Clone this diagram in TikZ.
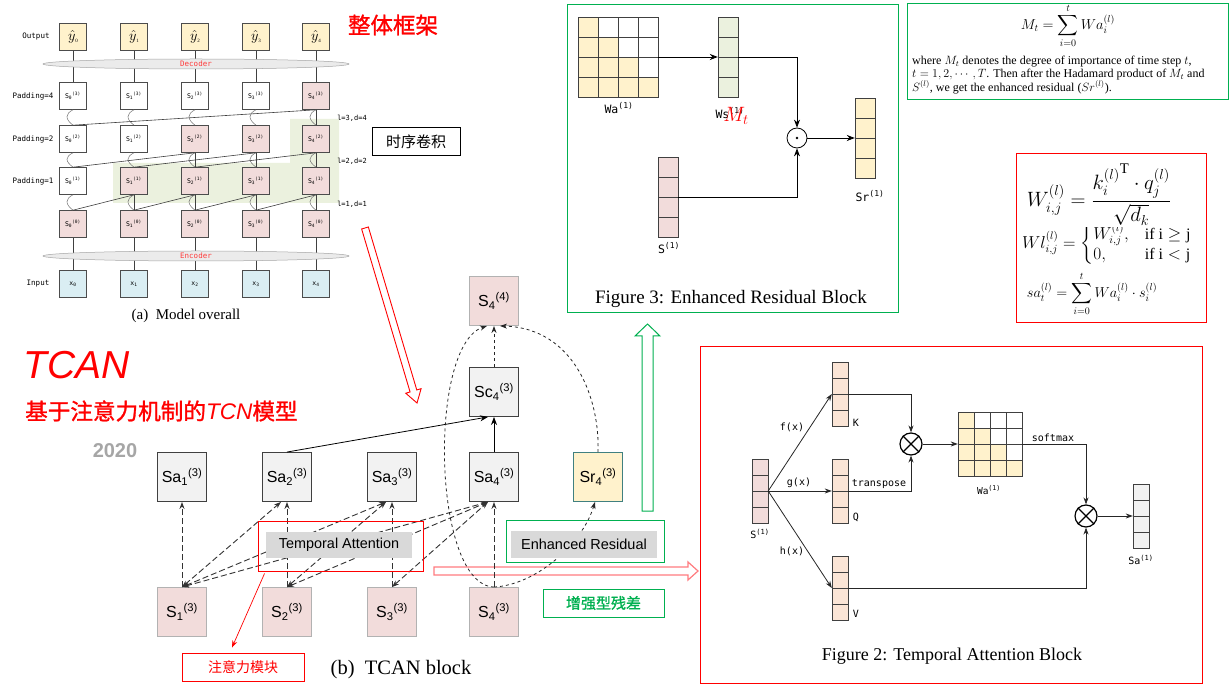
\documentclass[tikz,border=0pt]{standalone}
\usepackage{amsmath}
\usepackage{fontspec}
\setmainfont{Liberation Serif}
\setsansfont{Liberation Sans}
\setmonofont{DejaVu Sans Mono}
\newfontfamily\cjk{Noto Sans CJK SC}
\newfontfamily\cjkb[FakeBold=1.2]{Noto Sans CJK SC}
\usetikzlibrary{arrows.meta,calc,shapes.geometric}
\definecolor{pinkc}{HTML}{F2DCDB}
\definecolor{yelc}{HTML}{FFF2CC}
\definecolor{bluec}{HTML}{DAEEF3}
\definecolor{greenc}{HTML}{EBF1DE}
\definecolor{grayc}{HTML}{F2F2F2}
\definecolor{peachc}{HTML}{FBE5D6}
\definecolor{tagray}{HTML}{D9D9D9}
\definecolor{gline}{HTML}{00B050}
\definecolor{pinkarrow}{HTML}{FF7C80}
\definecolor{yeargray}{HTML}{A6A6A6}
\definecolor{encred}{HTML}{FF3B3B}
\newcommand{\fsz}[1]{\fontsize{#1}{#1}\selectfont}
\newcommand{\cellvec}[4]{\foreach \ii in {0,...,3}{\filldraw[fill=#4, draw=black!75, line width=0.8pt] (#1,#2+#3*\ii) rectangle ++(#3,#3);}}
\newcommand{\cellmat}[3]{\foreach \ii in {0,...,3}{\foreach \jj in {0,...,3}{\ifnum\jj>\ii\relax\def\cellcol{white}\else\def\cellcol{yelc}\fi
  \filldraw[fill=\cellcol, draw=black!75, line width=0.8pt] (#1+#3*\jj,#2+#3*\ii) rectangle ++(#3,#3);}}}
\tikzset{
  mbox/.style={draw=black!70, line width=0.6pt, minimum width=27pt, minimum height=27pt, inner sep=0pt, font=\fsz{6.5}\ttfamily},
  rowlab/.style={font=\fsz{7.5}\ttfamily, inner sep=0pt},
  mline/.style={draw=black!75, line width=0.6pt},
  wave/.style={draw=black!55, line width=0.5pt},
  ellip/.style={ellipse, draw=black!35, fill=black!8, line width=0.5pt, minimum width=306pt, minimum height=10pt, inner sep=0pt, font=\fsz{7.5}\ttfamily, text=encred},
  bbox/.style={draw=black!75, line width=0.9pt, minimum width=49pt, minimum height=49pt, inner sep=0pt, font=\fsz{16}\sffamily},
  bg/.style={bbox, fill=grayc},
  bp/.style={bbox, fill=pinkc, draw=black!30},
  byl/.style={bbox, fill=yelc, draw=teal!50!gray},
  att/.style={draw=black!80, line width=0.9pt, dash pattern=on 6pt off 3pt, -{Stealth[length=7pt,width=5pt]}},
  attb/.style={att, {Stealth[length=7pt,width=5pt]}-{Stealth[length=7pt,width=5pt]}},
  dotl/.style={draw=black!85, line width=0.8pt, dash pattern=on 3pt off 3pt, -{Stealth[length=7pt,width=5pt]}},
  arr/.style={draw=black, line width=0.8pt, -{Stealth[length=8pt,width=6pt]}},
  arrs/.style={draw=black!85, line width=0.8pt, -{Stealth[length=7pt,width=5pt]}},
  lab/.style={font=\fsz{10}\ttfamily, inner sep=0pt},
  vn/.style={inner sep=0pt, minimum width=#1pt, minimum height=4*#1pt},
  otim/.style={circle, draw=black, line width=1.2pt, minimum size=22pt, inner sep=0pt, fill=white},
}
\begin{document}
\begin{tikzpicture}[x=1pt,y=-1pt]
\useasboundingbox (0,0) rectangle (1232,692);
\fill[white] (0,0) rectangle (1232,692);

% ================= (a) Model overall =================
\fill[greenc] (113,163) -- (290,163) -- (290,119) -- (339,119) -- (339,203) -- (113,203) -- cycle;
\foreach \i/\x/\fa/\fb/\fc in {0/73/white/white/white,1/134/white/white/pinkc,2/195/white/pinkc/pinkc,3/256/white/pinkc/pinkc,4/316/pinkc/pinkc/pinkc}{
  \node[mbox, fill=yelc, font=\fsz{15}] (o\i) at (\x,37) {$\hat{y}$\raisebox{-2pt}{\fsz{5}\rmfamily\i}};
  \node[mbox, fill=\fa] (ra\i) at (\x,96) {S\textsubscript{\i}\textsuperscript{(3)}};
  \node[mbox, fill=\fb] (rb\i) at (\x,139) {S\textsubscript{\i}\textsuperscript{(2)}};
  \node[mbox, fill=\fc] (rc\i) at (\x,181) {S\textsubscript{\i}\textsuperscript{(1)}};
  \node[mbox, fill=pinkc] (rd\i) at (\x,224) {S\textsubscript{\i}\textsuperscript{(0)}};
  \node[mbox, fill=bluec] (in\i) at (\x,284) {x\textsubscript{\i}};
  \draw[mline] (o\i.south) -- (ra\i.north);
  \draw[mline] (rd\i.south) -- (in\i.north);
  \draw[wave] (ra\i.south) .. controls +(-8,4) and +(-8,-6) .. (rb\i.north);
  \draw[wave] (rb\i.south) .. controls +(-8,4) and +(-8,-6) .. (rc\i.north);
  \draw[wave] (rc\i.south) .. controls +(-8,4) and +(-8,-6) .. (rd\i.north);
}
\draw[mline] (ra4.south) -- (rb4.north);
\foreach \i in {2,3,4}{\draw[mline] (rb\i.south) -- (rc\i.north);}
\foreach \i in {1,2,3,4}{\draw[mline] (rc\i.south) -- (rd\i.north);}
\draw[mline] (ra4.south) -- (rb0.north);
\foreach \i/\j in {2/0,3/1,4/2}{\draw[mline] (rb\i.south) -- (rc\j.north);}
\foreach \i/\j in {1/0,2/1,3/2,4/3}{\draw[mline] (rc\i.south) -- (rd\j.north);}
\node[ellip] (dec) at (196,64) {Decoder};
\node[ellip] (enc) at (196,256) {Encoder};
\node[rowlab] (lout) at (36,37) {Output};
\node[rowlab] (lp4) at (33,96) {Padding=4};
\node[rowlab] (lp2) at (33,139) {Padding=2};
\node[rowlab] (lp1) at (33,181) {Padding=1};
\node[rowlab] (lin) at (38,284) {Input};
\node[rowlab, font=\fsz{7}\ttfamily] (d4) at (352,118) {l=3,d=4};
\node[rowlab, font=\fsz{7}\ttfamily] (d2) at (352,161) {l=2,d=2};
\node[rowlab, font=\fsz{7}\ttfamily] (d1) at (352,204) {l=1,d=1};
\node[inner sep=0pt, font=\fsz{15}] (capa) at (186,316) {(a)\ \ Model overall};

\node[font=\cjkb\fsz{22.5}, text=red, inner sep=0pt] (ztkj) at (393,25) {整体框架};
\node[draw=black, line width=1pt, minimum width=88pt, minimum height=28pt, font=\cjk\fsz{15}, inner sep=0pt] (sxjj) at (416,142) {时序卷积};

% ================= Titles =================
\node[font=\sffamily\itshape\fsz{39}, text=red, inner sep=0pt] (tcan) at (77,365) {TCAN};
\node[font=\cjkb\fsz{22.6}, text=red, inner sep=0pt, anchor=west] (tcnm) at (25,411) {基于注意力机制的{\sffamily\itshape TCN}模型};
\node[font=\sffamily\bfseries\fsz{20}, text=yeargray, inner sep=0pt] (yr) at (115,451) {2020};

% ================= hollow arrows =================
\begin{scope}[shift={(365,228)}, rotate=-73.45]
\filldraw[fill=white, draw=red, line width=0.9pt] (0,-3.5) -- (170,-3.5) -- (170,-8) -- (182.6,0) -- (170,8) -- (170,3.5) -- (0,3.5) -- cycle;
\end{scope}
\filldraw[fill=white, draw=pinkarrow, line width=1.2pt] (434,567) -- (688,567) -- (688,562) -- (698,571) -- (688,580) -- (688,575) -- (434,575) -- cycle;
\filldraw[fill=white, draw=gline, line width=1pt] (642,511) -- (642,336) -- (635,336) -- (647.5,324) -- (660,336) -- (653,336) -- (653,511) -- cycle;

% ================= (b) TCAN block =================
\node[bg] (sa1) at (182,477) {Sa\textsubscript{1}\textsuperscript{(3)}};
\node[bg] (sa2) at (287,477) {Sa\textsubscript{2}\textsuperscript{(3)}};
\node[bg] (sa3) at (392,477) {Sa\textsubscript{3}\textsuperscript{(3)}};
\node[bg] (sa4) at (494,477) {Sa\textsubscript{4}\textsuperscript{(3)}};
\node[bp] (s1) at (182,612) {S\textsubscript{1}\textsuperscript{(3)}};
\node[bp] (s2) at (287,612) {S\textsubscript{2}\textsuperscript{(3)}};
\node[bp] (s3) at (392,612) {S\textsubscript{3}\textsuperscript{(3)}};
\node[bp] (s4) at (494,612) {S\textsubscript{4}\textsuperscript{(3)}};
\node[bg] (sc4) at (494,392) {Sc\textsubscript{4}\textsuperscript{(3)}};
\node[bp] (s44) at (494,301) {S\textsubscript{4}\textsuperscript{(4)}};
\node[byl] (sr4) at (598,477) {Sr\textsubscript{4}\textsuperscript{(3)}};

\foreach \i in {1,2,3,4}{\draw[att] (s\i.north) -- (sa\i.south);}
\foreach \i/\j in {1/2,1/3,1/4,2/3,2/4,3/4}{\draw[attb] (s\i.north) -- ([xshift=-6pt]sa\j.south);}
\draw[arr] (sa4.north) -- (sc4.south);
\draw[arr] (sa2.north) -- ([xshift=-6pt]sc4.south);
\draw[dotl] (sc4.north) -- (s44.south);
\draw[dotl] (s4.north) .. controls (432,585) and (428,345) .. ([xshift=-7pt]s44.south);
\draw[dotl] (s4.north) .. controls (535,585) and (582,545) .. ([xshift=-3pt]sr4.south);
\draw[dotl] (sr4.north) .. controls (600,400) and (575,328) .. ([xshift=6pt]s44.south);

\node[fill=tagray, minimum width=146pt, minimum height=26pt, inner sep=0pt, font=\fsz{14.4}\sffamily] (ta) at (339,545) {Temporal Attention};
\node[draw=red, line width=0.9pt, minimum width=165pt, minimum height=50pt] (tared) at (340.5,546) {};
\node[fill=tagray, minimum width=146pt, minimum height=27pt, inner sep=0pt, font=\fsz{14.5}\sffamily] (er) at (584,544.5) {Enhanced Residual};
\node[draw=gline, line width=0.9pt, minimum width=158pt, minimum height=42pt] (ergr) at (585,541) {};
\node[draw=red, line width=0.9pt, minimum width=122pt, minimum height=28pt, font=\cjk\fsz{14}, text=red, inner sep=0pt] (zyl) at (243,667) {注意力模块};
\draw[red, line width=0.7pt, -{Stealth[length=7pt,width=5pt]}] ($(tared.south west)+(7,2)$) -- ($(zyl.north)+(-11,-5)$);
\node[draw=gline, line width=0.9pt, minimum width=121pt, minimum height=28pt, font=\cjkb\fsz{15}, text=gline, inner sep=0pt] (zqc) at (603.5,603) {增强型残差};
\node[inner sep=0pt, font=\fsz{20.5}] (capb) at (401,670) {(b)\ \ TCAN block};

% ================= Figure 3 =================
\draw[gline, line width=1pt] (567,5) rectangle (898,313);
\cellmat{578}{17}{20}
\node[vn=20, minimum width=80pt, minimum height=80pt] (wa3) at (618,57) {};
\cellvec{718}{17}{20}{greenc}
\node[vn=20] (mv) at (728,57) {};
\cellvec{658}{157}{20}{pinkc}
\node[vn=20] (sv) at (668,197) {};
\cellvec{855}{98}{20}{yelc}
\node[vn=20] (srv) at (865,138) {};
\node[circle, draw=black, line width=0.8pt, minimum size=20pt, inner sep=0pt, fill=white] (od) at (797,138) {};
\fill (od.center) circle (1.3);
\draw[arr] (wa3.east) -- (mv.west);
\draw[arr] (mv.east) -| (od.north);
\draw[arr] (sv.east) -| (od.south);
\draw[arr] (od.east) -- (srv.west);
\node[lab, font=\fsz{11.5}\ttfamily] (wal3) at (619,108) {Wa\textsuperscript{(1)}};
\node[lab, font=\fsz{11.5}\ttfamily] (wsl3) at (730,113) {Ws\textsuperscript{(1)}};
\node[inner sep=0pt, text=red, font=\fsz{22}] (mtl) at (736,116) {$M_t$};
\node[lab, font=\fsz{11.5}\ttfamily] (sl3) at (669,248) {S\textsuperscript{(1)}};
\node[lab, font=\fsz{11.5}\ttfamily] (srl3) at (870,196) {Sr\textsuperscript{(1)}};
\node[inner sep=0pt, font=\fsz{19}] (cap3) at (731,299) {Figure 3: Enhanced Residual Block};

% ================= Formula box (green) =================
\draw[gline, line width=1pt] (907,4) rectangle (1228,100);
\node[inner sep=0pt, font=\fsz{14.4}] (fmt) at (1068,26) {$\displaystyle M_t=\sum_{i=0}^{t} Wa_i^{(l)}$};
\node[inner sep=0pt, anchor=north west, align=left, font=\fontsize{12}{13.3}\selectfont] (ftxt) at (912,56) {where $M_t$ denotes the degree of importance of time step $t$,\\$t=1,2,\cdots,T$. Then after the Hadamard product of $M_t$ and\\$S^{(l)}$, we get the enhanced residual ($Sr^{(l)}$).};

% ================= Formula box (red) =================
\draw[red, line width=1pt] (1016,154) rectangle (1206,323);
\node[inner sep=0pt, font=\fsz{16}] (fw2) at (1107,244) {$Wl_{i,j}^{(l)}=\begin{cases}W_{i,j}^{(l)}, & \text{if i} \geq \text{j}\\ 0, & \text{if i} < \text{j}\end{cases}$};
\node[inner sep=1pt, fill=white, font=\fsz{21}] (fw1) at (1099,195) {$W_{i,j}^{(l)}=\dfrac{{k_i^{(l)}}^{\mathrm{T}}\cdot q_j^{(l)}}{\sqrt{d_k}}$};
\node[inner sep=0pt, font=\fsz{14.4}] (fw3) at (1092,294) {$\displaystyle sa_t^{(l)}=\sum_{i=0}^{t} Wa_i^{(l)}\cdot s_i^{(l)}$};

% ================= Figure 2 =================
\draw[red, line width=1pt] (700,347) rectangle (1202,683);
\cellvec{752}{459}{16}{pinkc}
\node[vn=16] (s2v) at (760,491) {};
\cellvec{832}{362}{16}{peachc}
\node[vn=16] (kv) at (840,394) {};
\cellvec{832}{459}{16}{peachc}
\node[vn=16] (qv) at (840,491) {};
\cellvec{832}{556}{16}{peachc}
\node[vn=16] (vv) at (840,588) {};
\cellmat{958}{412}{16}
\node[vn=16, minimum width=64pt, minimum height=64pt] (wa2) at (990,444) {};
\cellvec{1133}{484}{16}{grayc}
\node[vn=16] (sav) at (1141,516) {};
\node[otim] (ot1) at (911,444) {};
\draw[line width=1.2pt] (ot1.north east) -- (ot1.south west) (ot1.north west) -- (ot1.south east);
\node[otim] (ot2) at (1086,516) {};
\draw[line width=1.2pt] (ot2.north east) -- (ot2.south west) (ot2.north west) -- (ot2.south east);
\draw[arrs] (s2v.east) -- (kv.west);
\draw[arrs] (s2v.east) -- (qv.west);
\draw[arrs] (s2v.east) -- (vv.west);
\draw[arrs] (kv.east) -| (ot1.north);
\draw[arrs] (qv.east) -| (ot1.south);
\draw[arrs] (ot1.east) -- (wa2.west);
\draw[arrs] (wa2.east) -| (ot2.north);
\draw[arrs] (vv.east) -| (ot2.south);
\draw[arrs] (ot2.east) -- (sav.west);
\node[lab] (fx) at (792,427) {f(x)};
\node[lab] (gx) at (799,483) {g(x)};
\node[lab] (hx) at (792,551) {h(x)};
\node[lab] (tr) at (879,484) {transpose};
\node[lab] (sm) at (1053,438) {softmax};
\node[lab] (kl) at (856,423) {K};
\node[lab] (ql) at (856,517) {Q};
\node[lab] (vl) at (856,614) {V};
\node[lab] (sl2) at (760,534) {S\textsuperscript{(1)}};
\node[lab, font=\fsz{9.5}\ttfamily] (wal2) at (989,490) {Wa\textsuperscript{(1)}};
\node[lab] (sal2) at (1141,560) {Sa\textsuperscript{(1)}};
\node[inner sep=0pt, font=\fsz{18}] (cap2) at (952,656) {Figure 2: Temporal Attention Block};
\end{tikzpicture}
\end{document}
